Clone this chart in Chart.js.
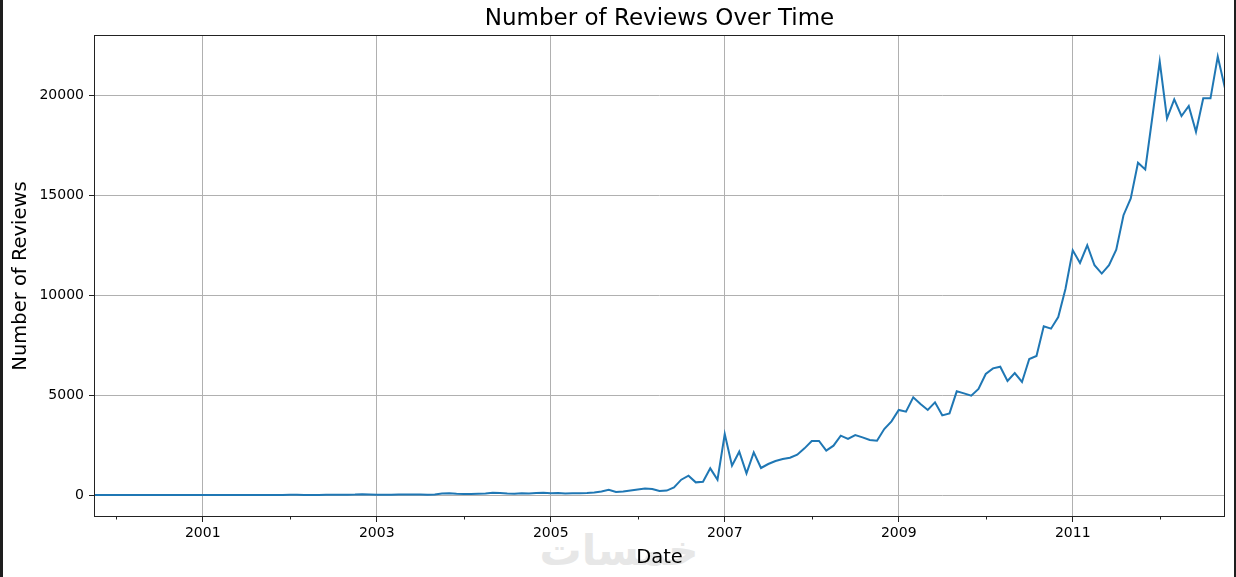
<!DOCTYPE html>
<html>
<head>
<meta charset="utf-8">
<script src="https://cdn.jsdelivr.net/npm/chart.js@4.4.1/dist/chart.umd.min.js"></script>
<style>
    body { margin: 0; background: #fff; }
    #wrap { position: relative; width: 1236px; height: 577px; overflow: hidden; }
    #watermark {
        position: absolute; left: 534px; top: 526px; width: 170px;
        text-align: center; font: bold 42px 'DejaVu Sans'; color: #e7e7e7;
        z-index: 0;
    }
    #chartBox { position: absolute; left: 0; top: 0; width: 1236px; height: 577px; z-index: 1; }
    .edge { position: absolute; top: 0; height: 577px; background: #1e1e1e; z-index: 2; }
</style>
</head>
<body>
<div id="wrap">
    <div id="watermark">خمسات</div>
    <div id="chartBox"><canvas id="reviewsChart"></canvas></div>
    <div class="edge" style="left:0;width:3px"></div>
    <div class="edge" style="left:1234px;width:2px"></div>
</div>
<script>
// Monthly review counts, Oct 1999 - Oct 2012
const months = [
    '1999-10', '1999-11', '1999-12',
    '2000-01', '2000-02', '2000-03', '2000-04', '2000-05', '2000-06', '2000-07', '2000-08', '2000-09', '2000-10', '2000-11', '2000-12',
    '2001-01', '2001-02', '2001-03', '2001-04', '2001-05', '2001-06', '2001-07', '2001-08', '2001-09', '2001-10', '2001-11', '2001-12',
    '2002-01', '2002-02', '2002-03', '2002-04', '2002-05', '2002-06', '2002-07', '2002-08', '2002-09', '2002-10', '2002-11', '2002-12',
    '2003-01', '2003-02', '2003-03', '2003-04', '2003-05', '2003-06', '2003-07', '2003-08', '2003-09', '2003-10', '2003-11', '2003-12',
    '2004-01', '2004-02', '2004-03', '2004-04', '2004-05', '2004-06', '2004-07', '2004-08', '2004-09', '2004-10', '2004-11', '2004-12',
    '2005-01', '2005-02', '2005-03', '2005-04', '2005-05', '2005-06', '2005-07', '2005-08', '2005-09', '2005-10', '2005-11', '2005-12',
    '2006-01', '2006-02', '2006-03', '2006-04', '2006-05', '2006-06', '2006-07', '2006-08', '2006-09', '2006-10', '2006-11', '2006-12',
    '2007-01', '2007-02', '2007-03', '2007-04', '2007-05', '2007-06', '2007-07', '2007-08', '2007-09', '2007-10', '2007-11', '2007-12',
    '2008-01', '2008-02', '2008-03', '2008-04', '2008-05', '2008-06', '2008-07', '2008-08', '2008-09', '2008-10', '2008-11', '2008-12',
    '2009-01', '2009-02', '2009-03', '2009-04', '2009-05', '2009-06', '2009-07', '2009-08', '2009-09', '2009-10', '2009-11', '2009-12',
    '2010-01', '2010-02', '2010-03', '2010-04', '2010-05', '2010-06', '2010-07', '2010-08', '2010-09', '2010-10', '2010-11', '2010-12',
    '2011-01', '2011-02', '2011-03', '2011-04', '2011-05', '2011-06', '2011-07', '2011-08', '2011-09', '2011-10', '2011-11', '2011-12',
    '2012-01', '2012-02', '2012-03', '2012-04', '2012-05', '2012-06', '2012-07', '2012-08', '2012-09', '2012-10'
];

const reviews = [
    2, 1, 3,
    5, 3, 4, 2, 3, 2, 4, 3, 2, 3, 4, 6,
    2, 1, 2, 3, 1, 2, 1, 3, 2, 2, 3, 4,
    8, 10, 6, 4, 5, 7, 10, 12, 15, 20, 35, 30,
    15, 12, 18, 20, 25, 22, 20, 18, 30, 70, 90, 60,
    50, 45, 60, 80, 110, 100, 70, 60, 90, 80, 95, 110,
    90, 95, 80, 85, 90, 100, 130, 180, 265, 150, 170, 230,
    280, 320, 300, 200, 220, 380, 766, 966, 633, 666, 1333, 766,
    3050, 1466, 2166, 1083, 2133, 1350, 1550, 1700, 1800, 1866, 2016, 2333,
    2700, 2700, 2216, 2466, 2966, 2800, 3000, 2883, 2750, 2716, 3300, 3683,
    4250, 4166, 4883, 4550, 4250, 4633, 3983, 4083, 5183, 5083, 4966, 5300,
    6050, 6333, 6416, 5700, 6100, 5650, 6800, 6950, 8433, 8316, 8900, 10316,
    12236, 11600, 12486, 11486, 11070, 11486, 12270, 13990, 14826, 16610, 16280, 18950,
    21670, 18834, 19785, 18950, 19450, 18162, 19835, 19835, 21920, 20336
];

// labeled years get a grid line, the years between only a short minor tick
const labeledYears = ['2001', '2003', '2005', '2007', '2009', '2011'];
const minorYears = ['2000', '2002', '2004', '2006', '2008', '2010', '2012'];
const yTicks = [0, 5000, 10000, 15000, 20000];

// month index counted from the first month
const startYear = +months[0].slice(0, 4);
const startMonth = +months[0].slice(5, 7);
const monthIndex = s => (+s.slice(0, 4) - startYear) * 12 + (+s.slice(5, 7) - startMonth);

const points = months.map((m, i) => ({ x: monthIndex(m), y: reviews[i] }));
const majorPos = labeledYears.map(y => monthIndex(y + '-01'));
const minorPos = minorYears.map(y => monthIndex(y + '-01'));
const yearOf = v => String(startYear + Math.floor((v + startMonth - 1) / 12));

const font = 'DejaVu Sans';

// axes frame, minor x ticks and the title centred over the plot
const frame = {
    id: 'frame',
    afterDatasetsDraw(chart) {
        const a = chart.chartArea;
        const ctx = chart.ctx;
        ctx.save();
        ctx.strokeStyle = '#222';
        ctx.lineWidth = 1;
        const l = Math.round(a.left) + 0.5, t = Math.round(a.top) + 0.5;
        const r = Math.round(a.right) - 0.5, b = Math.round(a.bottom) - 0.5;
        ctx.strokeRect(l, t, r - l, b - t);

        const xs = chart.scales.x;
        ctx.beginPath();
        minorPos.forEach(v => {
            const px = Math.round(xs.getPixelForValue(v)) + 0.5;
            ctx.moveTo(px, b);
            ctx.lineTo(px, b + 3);
        });
        ctx.stroke();

        ctx.fillStyle = '#000';
        ctx.font = '23px "DejaVu Sans"';
        ctx.textAlign = 'center';
        ctx.textBaseline = 'middle';
        ctx.fillText('Number of Reviews Over Time', (a.left + a.right) / 2, 19);
        ctx.restore();
    }
};

new Chart(document.getElementById('reviewsChart'), {
    type: 'line',
    data: {
        datasets: [{
            data: points,
            borderColor: '#1f77b4',
            borderWidth: 2,
            pointRadius: 0,
            tension: 0,
            fill: false
        }]
    },
    options: {
        responsive: true,
        maintainAspectRatio: false,
        animation: false,
        layout: { padding: { left: 0, right: 11, top: 35, bottom: 0 } },
        plugins: {
            legend: { display: false },
            tooltip: { enabled: false },
            title: { display: false }
        },
        scales: {
            x: {
                type: 'linear',
                min: 0,
                max: months.length - 1,
                afterBuildTicks: s => { s.ticks = majorPos.map(v => ({ value: v })); },
                afterFit: s => { s.height = 60; },
                border: { display: false },
                grid: {
                    color: '#b0b0b0',
                    tickColor: '#222',
                    tickLength: 5,
                    lineWidth: 1
                },
                ticks: {
                    autoSkip: false,
                    maxRotation: 0,
                    padding: 3,
                    color: '#000',
                    font: { family: font, size: 14 },
                    callback: v => yearOf(v)
                },
                title: {
                    display: true,
                    text: 'Date',
                    color: '#000',
                    font: { family: font, size: 19.5 },
                    padding: { top: 0, bottom: 7 }
                }
            },
            y: {
                min: -1100,
                max: 23000,
                afterBuildTicks: s => { s.ticks = yTicks.map(v => ({ value: v })); },
                afterFit: s => { s.width = 94; },
                border: { display: false },
                grid: {
                    color: '#b0b0b0',
                    tickColor: '#222',
                    tickLength: 5,
                    lineWidth: 1
                },
                ticks: {
                    padding: 5,
                    color: '#000',
                    font: { family: font, size: 14 },
                    callback: v => String(v)
                },
                title: {
                    display: true,
                    text: 'Number of Reviews',
                    color: '#000',
                    font: { family: font, size: 19.5 },
                    padding: { top: 9, bottom: 0 }
                }
            }
        }
    },
    plugins: [frame]
});
</script>
</body>
</html>
